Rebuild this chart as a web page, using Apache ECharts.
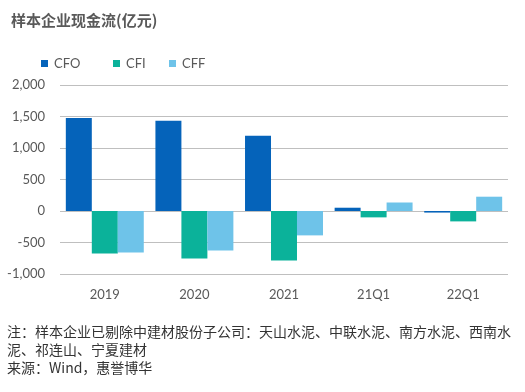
<!DOCTYPE html>
<html><head><meta charset="utf-8">
<script src="https://cdn.jsdelivr.net/npm/echarts@6/dist/echarts.min.js"></script>
<style>html,body{margin:0;padding:0;background:#fff}#c{width:525px;height:392px}</style>
</head><body><div id="c"></div>
<script>
const categories = ['2019','2020','2021','21Q1','22Q1'];
const cfo = [1475, 1433, 1195, 52, -25];
const cfi = [-673, -752, -784, -101, -165];
const cff = [-657, -625, -387, 135, 227];
const yTicks = {min: -1000, max: 2000, interval: 500};
const footLines = [
  '注：样本企业已剔除中建材股份子公司：天山水泥、中联水泥、南方水泥、西南水',
  '泥、祁连山、宁夏建材',
  '来源：Wind，惠誉博华'
];
const colors = {CFO:'#0563BA', CFI:'#0BB29A', CFF:'#6EC3E9'};
const latin = 'Lato, "Noto Sans CJK SC", sans-serif';
const cjk = '"Noto Sans CJK SC", sans-serif';

const chart = echarts.init(document.getElementById('c'));
function lg(name, left){
  return {data:[name], left:left, top:52, itemWidth:7, itemHeight:7, itemGap:0,
    icon:'rect', textStyle:{color:'#595959', fontSize:13, fontFamily:latin, padding:[0,0,0,1]}};
}
chart.setOption({
  animation:false,
  title:{text:'样本企业现金流(亿元)', left:6, top:8,
    textStyle:{fontSize:15, fontWeight:'bold', color:'#595959', fontFamily:cjk}},
  legend:[lg('CFO',36), lg('CFI',108), lg('CFF',164)],
  grid:{left:60, right:17, top:85, bottom:118, containLabel:false},
  xAxis:{type:'category', data:categories,
    axisLine:{show:false}, axisTick:{show:false},
    axisLabel:{color:'#595959', fontSize:13, fontFamily:latin, margin:14}},
  yAxis:{type:'value', min:yTicks.min, max:yTicks.max, interval:yTicks.interval,
    axisLine:{show:false}, axisTick:{show:false},
    splitLine:{lineStyle:{color:'#BFBFBF', width:1}},
    axisLabel:{color:'#595959', fontSize:13, fontFamily:latin, margin:15,
      formatter:v=>v.toLocaleString('en-US')}},
  series:[
    {name:'CFO', type:'bar', data:cfo, itemStyle:{color:colors.CFO}, barGap:'0%', barCategoryGap:'13%'},
    {name:'CFI', type:'bar', data:cfi, itemStyle:{color:colors.CFI}, barGap:'0%', barCategoryGap:'13%'},
    {name:'CFF', type:'bar', data:cff, itemStyle:{color:colors.CFF}, barGap:'0%', barCategoryGap:'13%'}
  ],
  graphic: footLines.map((t,i)=>({type:'text', left:7, top:325+i*18,
    style:{text:t, fontSize:14, fill:'#333', fontFamily:cjk}}))
});
</script></body></html>
